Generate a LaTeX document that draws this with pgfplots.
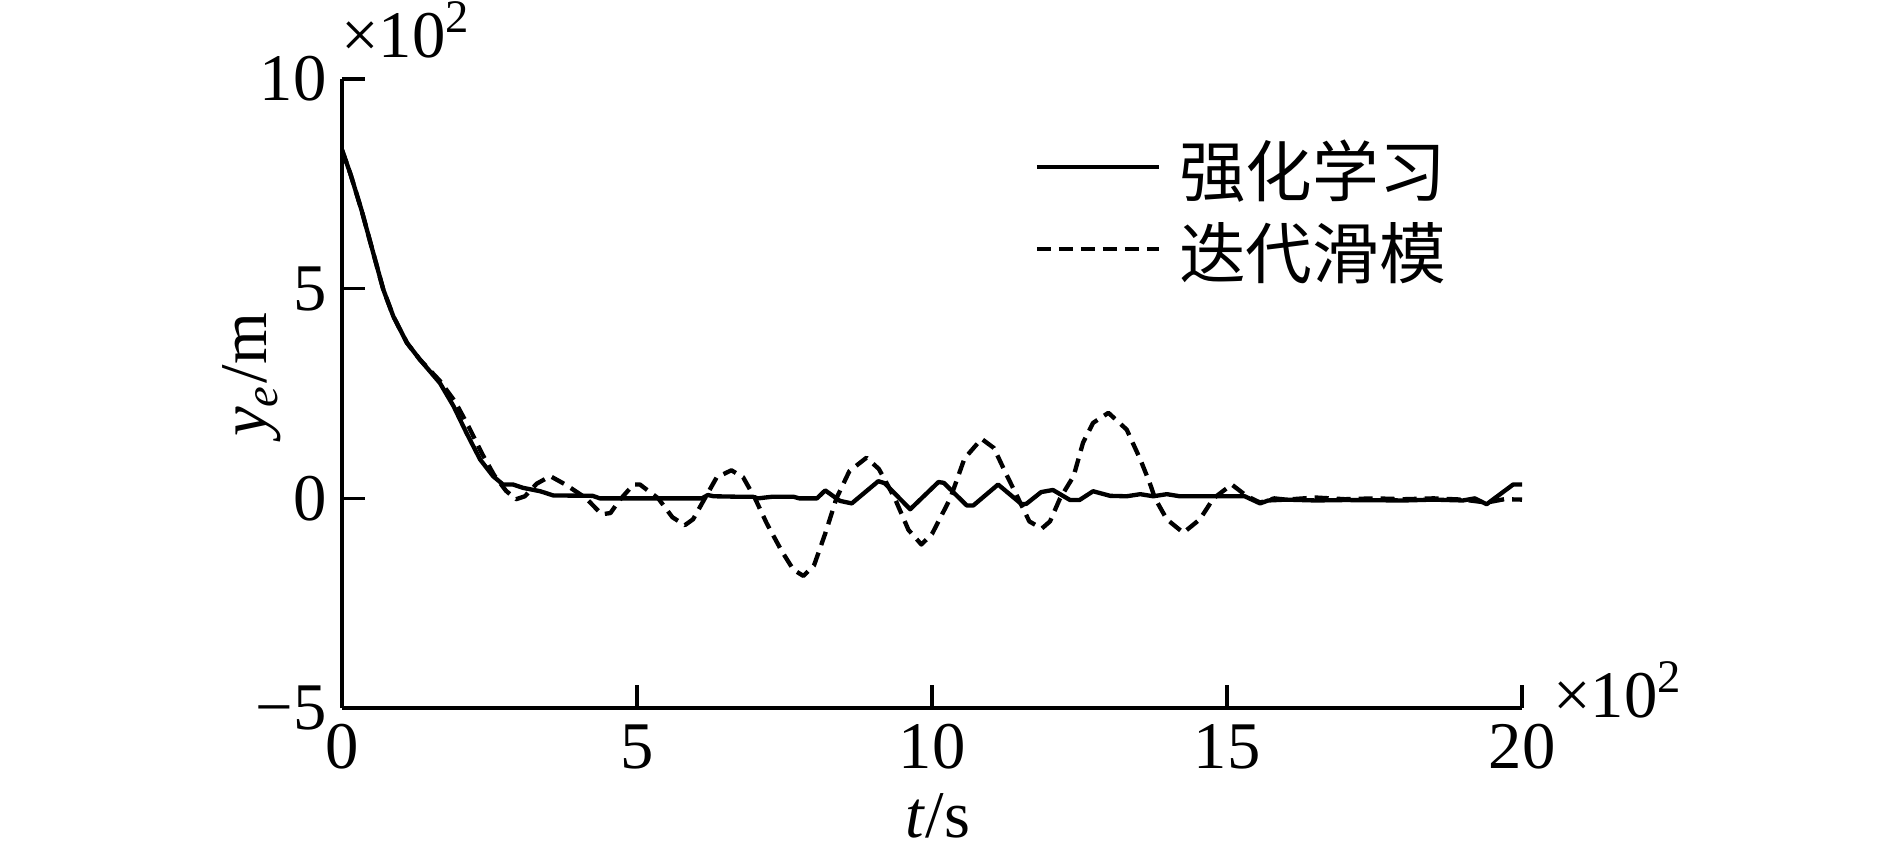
\documentclass[border=0pt]{standalone}
\usepackage{fontspec}
\setmainfont{Liberation Serif}
\newfontfamily\cjk{Noto Sans CJK SC}
\usepackage{pgfplots}
\pgfplotsset{compat=1.18}
\begin{document}
\begin{tikzpicture}
\begin{axis}[
  name=ax,
  scale only axis,
  width=177pt, height=94.35pt,
  xmin=0, xmax=20, ymin=-5, ymax=10,
  axis x line=bottom, axis y line=left,
  axis line style={-, line width=0.5pt, black},
  tick align=inside,
  major tick length=3.4pt,
  tick style={line width=0.5pt, black},
  xtick={0,5,10,15,20}, xticklabels={0,5,10,15,20},
  ytick={-5,0,5,10}, yticklabels={−5,0,5,10},
  scaled ticks=false,
  ticklabel style={font=\fontsize{10}{12}\selectfont},
  yticklabel style={inner sep=0pt, xshift=-2.1pt},
  xticklabel style={inner sep=0pt, yshift=-2.25pt},
  xlabel={\textit{t}/s},
  ylabel={\textit{y}\textsubscript{\textit{e}}/m},
  every axis x label/.style={at={([yshift=-19.4pt]axis description cs:0.505,0)}, anchor=base, inner sep=0pt, font=\fontsize{10}{12}\selectfont},
  every axis y label/.style={at={([xshift=-11.25pt]axis description cs:0,0.53)}, rotate=90, anchor=base, inner sep=0pt, font=\fontsize{10}{12}\selectfont},
  legend style={draw=none, fill=none, inner sep=0pt, outer sep=0pt,
    at={(rel axis cs:0.587,0.903)}, anchor=north west,
    row sep=2.4pt, column sep=2.7pt,
    nodes={inner sep=0pt, font=\cjk\fontsize{10}{12}\selectfont}},
  legend cell align=left,
  legend image code/.code={\draw[#1] (0pt,1pt) -- (18.3pt,1pt);},
]
\addplot[black, line width=0.65pt, line join=round] coordinates {
(0,8.31) (0.14,7.75) (0.33,6.88) (0.53,5.85) (0.70,4.98) (0.87,4.34)
(1.10,3.71) (1.32,3.31) (1.66,2.75) (1.89,2.20) (2.11,1.56) (2.34,0.93)
(2.56,0.53) (2.73,0.33) (2.90,0.33) (3.07,0.25) (3.36,0.17) (3.58,0.07)
(4.25,0.06) (4.37,0.0) (5.0,0.0) (6.1,0.0) (6.2,0.08) (6.3,0.05) (6.68,0.04)
(6.96,0.04) (7.05,0.0) (7.3,0.04) (7.65,0.04) (7.75,0.0) (8.05,0.0)
(8.19,0.19) (8.44,-0.06) (8.64,-0.12) (9.09,0.41) (9.2,0.36) (9.63,-0.26)
(10.11,0.39) (10.2,0.37) (10.59,-0.17) (10.7,-0.17) (11.12,0.33)
(11.52,-0.14) (11.6,-0.13) (11.85,0.15) (12.05,0.2) (12.34,-0.04)
(12.5,-0.04) (12.73,0.17) (13.02,0.06) (13.3,0.05) (13.53,0.10)
(13.75,0.05) (13.98,0.10) (14.2,0.05) (15.3,0.05) (15.56,-0.12)
(15.7,-0.05) (16.0,-0.03) (16.5,-0.05) (17.0,-0.04) (18.0,-0.05)
(18.5,-0.03) (19.0,-0.05) (19.2,0.0) (19.4,-0.14) (19.85,0.33) (20.0,0.33)
};
\addlegendentry{强化学习}
\addplot[black, line width=0.65pt, dash pattern=on 2.1pt off 1.2pt, line join=round] coordinates {
(0,8.31) (0.14,7.75) (0.33,6.88) (0.53,5.85) (0.70,4.98) (0.87,4.34)
(1.10,3.71) (1.32,3.31) (1.66,2.80) (1.92,2.30) (2.15,1.70) (2.38,1.05)
(2.58,0.55) (2.78,0.18) (2.95,-0.02) (3.10,0.05) (3.30,0.35) (3.53,0.53)
(3.80,0.32) (4.14,0.0) (4.40,-0.38) (4.55,-0.35) (4.70,-0.05) (4.94,0.33)
(5.05,0.33) (5.36,0.0) (5.60,-0.45) (5.81,-0.64) (5.95,-0.50) (6.15,0.0)
(6.35,0.50) (6.60,0.67) (6.80,0.50) (7.0,0.0) (7.2,-0.60) (7.45,-1.25)
(7.65,-1.70) (7.82,-1.85) (8.0,-1.60) (8.2,-0.80) (8.38,0.0) (8.6,0.65)
(8.89,0.97) (9.1,0.70) (9.37,0.0) (9.6,-0.75) (9.82,-1.10) (10.0,-0.85)
(10.31,0.0) (10.55,0.95) (10.84,1.42) (11.05,1.20) (11.25,0.60)
(11.46,0.0) (11.65,-0.55) (11.86,-0.72) (12.0,-0.55) (12.17,0.0)
(12.40,0.53) (12.56,1.33) (12.73,1.80) (12.99,2.04) (13.30,1.64)
(13.53,0.93) (13.69,0.37) (13.78,0.0) (13.98,-0.50) (14.26,-0.82)
(14.54,-0.50) (14.77,0.0) (15.08,0.33) (15.33,0.06) (15.56,-0.10)
(15.8,0.0) (16.0,-0.03) (16.5,0.02) (17.0,-0.02) (17.5,0.0) (18.0,-0.02)
(18.5,0.0) (19.0,-0.03) (19.4,-0.10) (19.7,-0.02) (20.0,-0.03)
};
\addlegendentry{迭代滑模}
\end{axis}
\node[anchor=base west, inner sep=0pt, font=\fontsize{10}{12}\selectfont] at ([xshift=-0.3pt,yshift=3.3pt]ax.north west) {×10\textsuperscript{2}};
\node[anchor=base west, inner sep=0pt, font=\fontsize{10}{12}\selectfont] at ([xshift=4.5pt,yshift=-1.35pt]ax.south east) {×10\textsuperscript{2}};
\pgfresetboundingbox
\path ([shift={(-51.3pt,-20.85pt)}]ax.south west) rectangle ([shift={(232.05pt,106.2pt)}]ax.south west);
\end{tikzpicture}
\end{document}
